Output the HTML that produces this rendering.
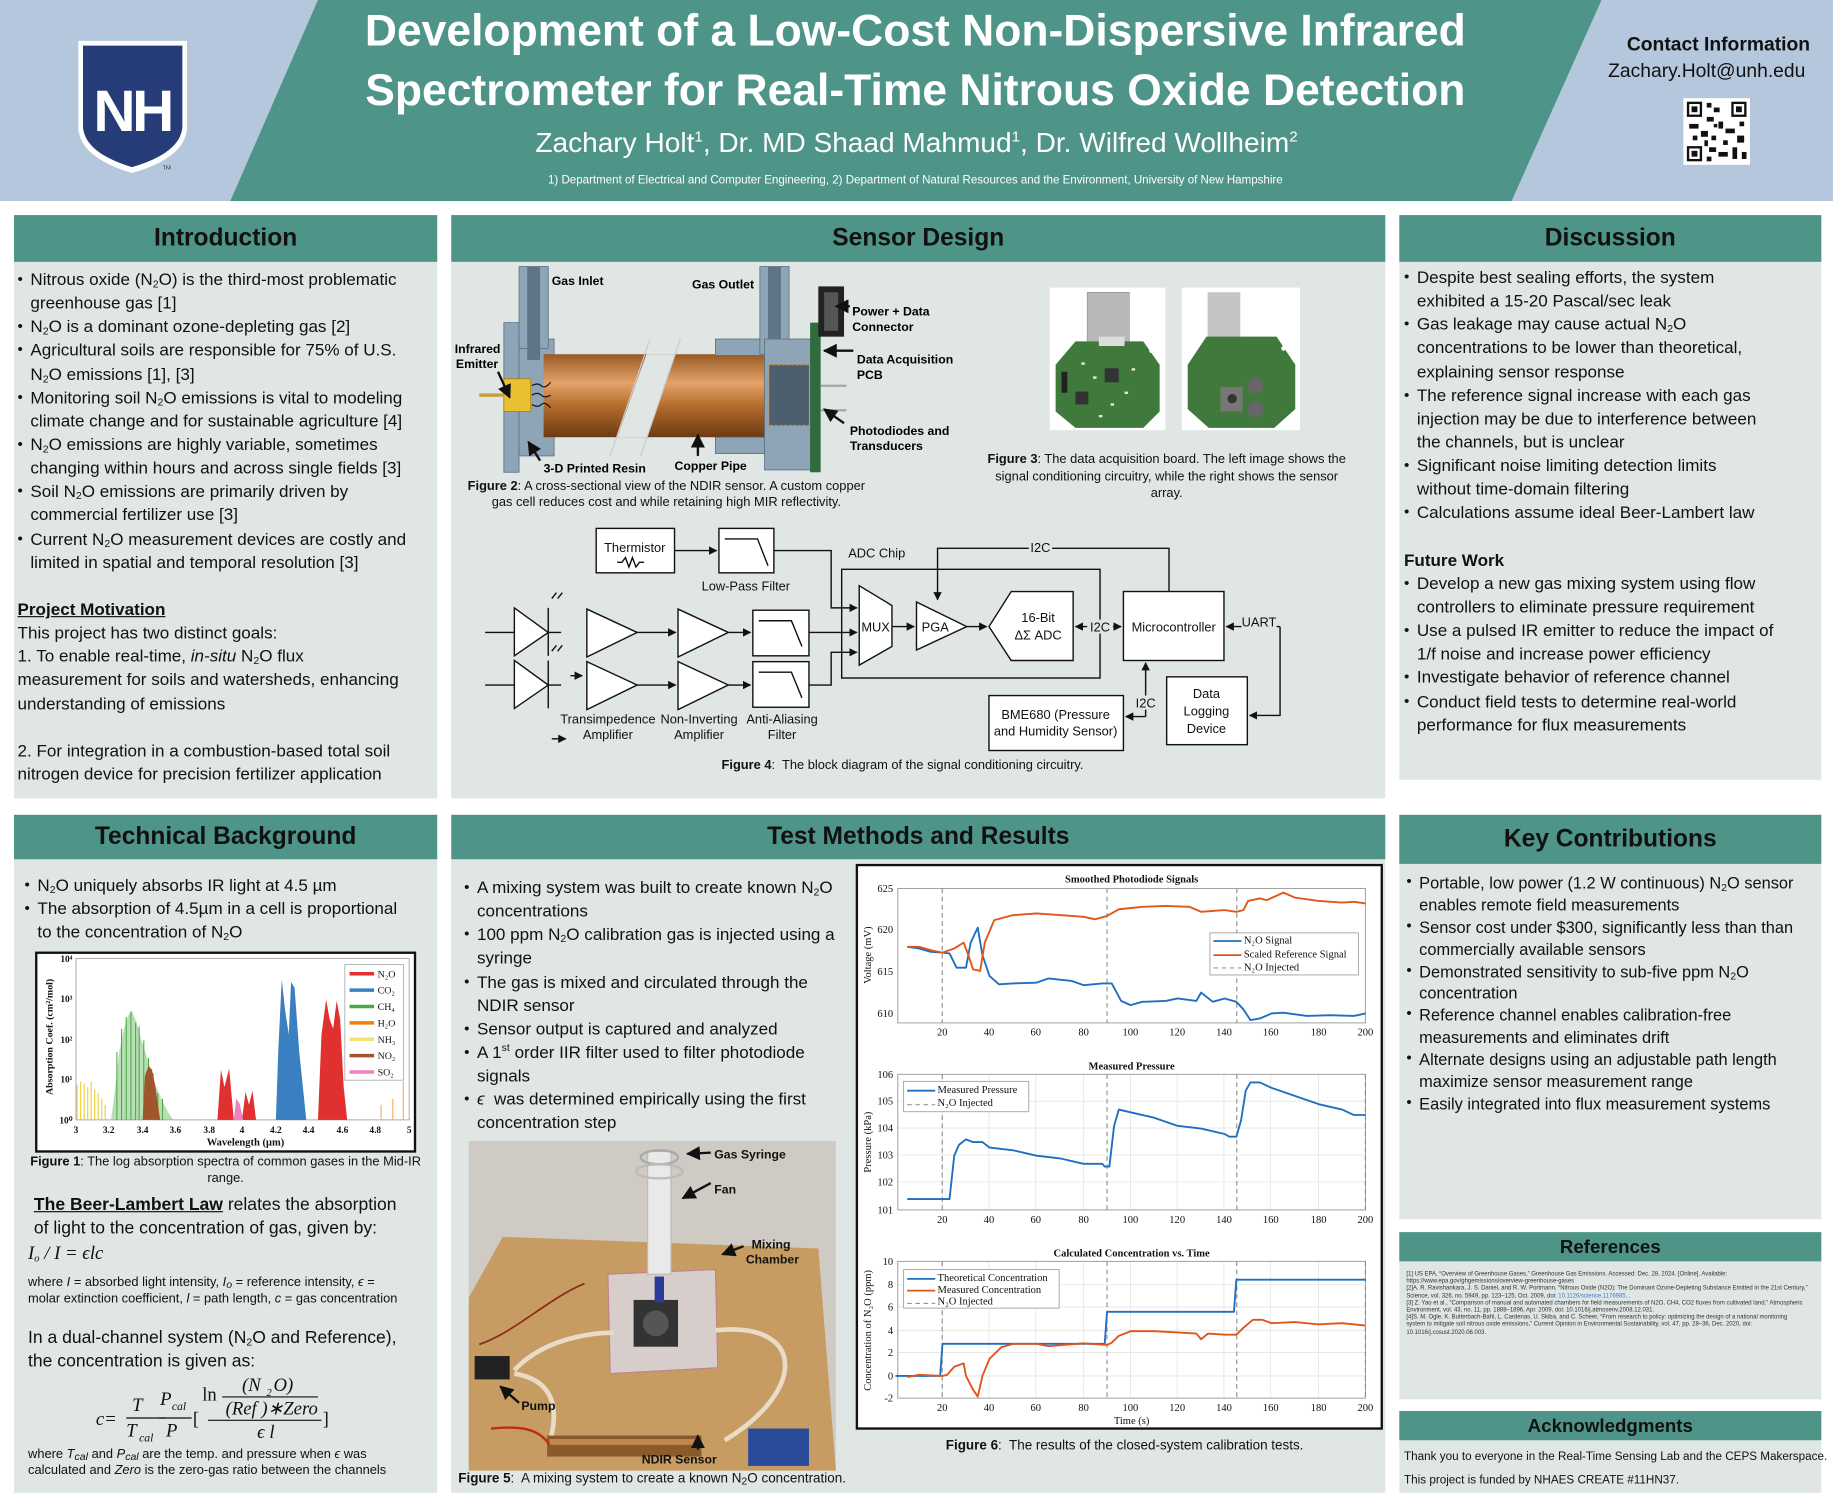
<!DOCTYPE html>
<html><head><meta charset="utf-8"><style>
html,body{margin:0;padding:0;width:1833px;height:1500px;overflow:hidden;background:#fff}
#p{position:absolute;left:0;top:0;width:1568px;height:1283px;transform:scale(1.16901);transform-origin:0 0;font-family:"Liberation Sans",sans-serif;color:#111}
.a{position:absolute;white-space:nowrap}
.pb{position:absolute;background:#dfe6e4}
.ph{position:absolute;background:#4f9488;text-align:center;font-weight:bold;font-size:21px;color:#111}
.t{position:absolute;white-space:nowrap;font-size:14.6px}
.t div{height:20.15px;line-height:20.15px}
.b{padding-left:11px;position:relative}
.b:before{content:"•";position:absolute;left:0;top:-1px;font-size:13px}
.c{padding-left:11px}
sub{font-size:9px;vertical-align:-2px;line-height:0}
sup{font-size:9px;line-height:0}
</style></head><body><div id="p">

<!-- header -->
<div class="a" style="left:0;top:0;width:1568px;height:172px;background:#b5c7dd"></div>
<svg class="a" style="left:0;top:0" width="1568" height="172">
<polygon points="272,0 1370,0 1293,172 197,172" fill="#4f9488"/>
<path d="M67,35 H160 V110 Q158,135 113,148 Q69,135 67,110 Z" fill="#fff"/>
<path d="M71,39 H156 V109 Q154,131 113,143 Q73,131 71,109 Z" fill="#253c78"/>
<text x="113" y="112" text-anchor="middle" font-family="Liberation Sans" font-weight="bold" font-size="50" fill="#fff" letter-spacing="-3">NH</text>
<text x="139" y="145" font-size="5" fill="#333">TM</text>
<rect x="1440" y="84" width="57" height="57" fill="#fff"/>
<g fill="#111">
<rect x="1443" y="87" width="13" height="13"/><rect x="1481" y="87" width="13" height="13"/><rect x="1443" y="125" width="13" height="13"/>
<rect x="1460" y="88" width="4" height="4"/><rect x="1466" y="92" width="5" height="4"/><rect x="1460" y="100" width="6" height="4"/><rect x="1470" y="104" width="4" height="6"/>
<rect x="1445" y="106" width="8" height="4"/><rect x="1455" y="112" width="6" height="5"/><rect x="1464" y="116" width="4" height="4"/><rect x="1476" y="110" width="8" height="4"/>
<rect x="1486" y="116" width="6" height="6"/><rect x="1462" y="126" width="6" height="4"/><rect x="1470" y="130" width="8" height="4"/><rect x="1482" y="126" width="4" height="10"/>
<rect x="1490" y="130" width="4" height="6"/><rect x="1460" y="134" width="4" height="4"/><rect x="1448" y="116" width="4" height="4"/><rect x="1474" y="120" width="4" height="4"/>
<rect x="1466" y="106" width="3" height="3"/><rect x="1488" y="104" width="4" height="4"/><rect x="1458" y="120" width="3" height="5"/>
</g>
<g fill="#fff"><rect x="1445" y="89" width="9" height="9"/><rect x="1483" y="89" width="9" height="9"/><rect x="1445" y="127" width="9" height="9"/></g>
<g fill="#111"><rect x="1447" y="91" width="5" height="5"/><rect x="1485" y="91" width="5" height="5"/><rect x="1447" y="129" width="5" height="5"/></g>
</svg>
<div class="a" style="left:783px;top:2px;transform:translateX(-50%);font-size:38px;font-weight:bold;color:#fff;text-align:center;line-height:51px">Development of a Low-Cost Non-Dispersive Infrared<br>Spectrometer for Real-Time Nitrous Oxide Detection</div>
<div class="a" style="left:784px;top:109px;transform:translateX(-50%);font-size:24px;color:#fff">Zachary Holt<sup style="font-size:13px">1</sup>, Dr. MD Shaad Mahmud<sup style="font-size:13px">1</sup>, Dr. Wilfred Wollheim<sup style="font-size:13px">2</sup></div>
<div class="a" style="left:783px;top:149px;transform:translateX(-50%);font-size:9.9px;color:#fff">1) Department of Electrical and Computer Engineering, 2) Department of Natural Resources and the Environment, University of New Hampshire</div>
<div class="a" style="left:1470px;top:29px;transform:translateX(-50%);font-size:16.5px;font-weight:bold">Contact Information</div>
<div class="a" style="left:1460px;top:52px;transform:translateX(-50%);font-size:16.5px">Zachary.Holt@unh.edu</div>

<!-- panels -->
<div class="pb" style="left:12px;top:184px;width:362px;height:499px"></div>
<div class="ph" style="left:12px;top:184px;width:362px;height:40px;line-height:40px">Introduction</div>
<div class="pb" style="left:386px;top:184px;width:799px;height:499px"></div>
<div class="ph" style="left:386px;top:184px;width:799px;height:40px;line-height:40px">Sensor Design</div>
<div class="pb" style="left:1197px;top:184px;width:361px;height:483px"></div>
<div class="ph" style="left:1197px;top:184px;width:361px;height:40px;line-height:40px">Discussion</div>

<div class="pb" style="left:12px;top:697px;width:362px;height:580px"></div>
<div class="ph" style="left:12px;top:697px;width:362px;height:38px;line-height:38px">Technical Background</div>
<div class="pb" style="left:386px;top:697px;width:799px;height:580px"></div>
<div class="ph" style="left:386px;top:697px;width:799px;height:38px;line-height:38px">Test Methods and Results</div>
<div class="pb" style="left:1197px;top:697px;width:361px;height:346px"></div>
<div class="ph" style="left:1197px;top:697px;width:361px;height:42px;line-height:42px">Key Contributions</div>
<div class="pb" style="left:1197px;top:1054px;width:361px;height:143px"></div>
<div class="ph" style="left:1197px;top:1054px;width:361px;height:25px;line-height:27px;font-size:16px">References</div>
<div class="pb" style="left:1197px;top:1207px;width:361px;height:70px"></div>
<div class="ph" style="left:1197px;top:1207px;width:361px;height:25px;line-height:27px;font-size:16px">Acknowledgments</div>

<!-- intro text -->
<div class="t" style="left:15px;top:230px">
<div class="b">Nitrous oxide (N<sub>2</sub>O) is the third-most problematic</div>
<div class="c">greenhouse gas [1]</div>
<div class="b">N<sub>2</sub>O is a dominant ozone-depleting gas [2]</div>
<div class="b">Agricultural soils are responsible for 75% of U.S.</div>
<div class="c">N<sub>2</sub>O emissions [1], [3]</div>
<div class="b">Monitoring soil N<sub>2</sub>O emissions is vital to modeling</div>
<div class="c">climate change and for sustainable agriculture [4]</div>
<div class="b">N<sub>2</sub>O emissions are highly variable, sometimes</div>
<div class="c">changing within hours and across single fields [3]</div>
<div class="b">Soil N<sub>2</sub>O emissions are primarily driven by</div>
<div class="c">commercial fertilizer use [3]</div>
<div class="b">Current N<sub>2</sub>O measurement devices are costly and</div>
<div class="c">limited in spatial and temporal resolution [3]</div>
<div>&nbsp;</div>
<div style="font-weight:bold;text-decoration:underline">Project Motivation</div>
<div>This project has two distinct goals:</div>
<div>1. To enable real-time, <i>in-situ</i> N<sub>2</sub>O flux</div>
<div>measurement for soils and watersheds, enhancing</div>
<div>understanding of emissions</div>
<div>&nbsp;</div>
<div>2. For integration in a combustion-based total soil</div>
<div>nitrogen device for precision fertilizer application</div>
</div>

<!-- discussion text -->
<div class="t" style="left:1201px;top:228px">
<div class="b">Despite best sealing efforts, the system</div>
<div class="c">exhibited a 15-20 Pascal/sec leak</div>
<div class="b">Gas leakage may cause actual N<sub>2</sub>O</div>
<div class="c">concentrations to be lower than theoretical,</div>
<div class="c">explaining sensor response</div>
<div class="b">The reference signal increase with each gas</div>
<div class="c">injection may be due to interference between</div>
<div class="c">the channels, but is unclear</div>
<div class="b">Significant noise limiting detection limits</div>
<div class="c">without time-domain filtering</div>
<div class="b">Calculations assume ideal Beer-Lambert law</div>
<div>&nbsp;</div>
<div style="font-weight:bold">Future Work</div>
<div class="b">Develop a new gas mixing system using flow</div>
<div class="c">controllers to eliminate pressure requirement</div>
<div class="b">Use a pulsed IR emitter to reduce the impact of</div>
<div class="c">1/f noise and increase power efficiency</div>
<div class="b">Investigate behavior of reference channel</div>
<div class="b">Conduct field tests to determine real-world</div>
<div class="c">performance for flux measurements</div>
</div>

<!-- tech background text -->
<div class="t" style="left:21px;top:748px;font-size:14.6px">
<div class="b">N<sub>2</sub>O uniquely absorbs IR light at 4.5 µm</div>
<div class="b">The absorption of 4.5µm in a cell is proportional</div>
<div class="c">to the concentration of N<sub>2</sub>O</div>
</div>
<div class="a" style="left:193px;top:988px;transform:translateX(-50%);font-size:11px;text-align:center;line-height:13.5px"><b>Figure 1</b>: The log absorption spectra of common gases in the Mid-IR<br>range.</div>
<div class="t" style="left:29px;top:1021px;font-size:15px">
<div><b style="text-decoration:underline">The Beer-Lambert Law</b> relates the absorption</div>
<div>of light to the concentration of gas, given by:</div>
</div>
<div class="a" style="left:24px;top:1064px;font-family:'Liberation Serif',serif;font-style:italic;font-size:16px">I<sub>o</sub> / I = ϵlc</div>
<div class="a" style="left:24px;top:1090px;font-size:11px;line-height:14px">where <i>I</i> = absorbed light intensity, <i>I<sub>o</sub></i> = reference intensity, <i>ϵ</i> =<br>molar extinction coefficient, <i>l</i> = path length, <i>c</i> = gas concentration</div>
<div class="t" style="left:24px;top:1135px;font-size:15px">
<div>In a dual-channel system (N<sub>2</sub>O and Reference),</div>
<div>the concentration is given as:</div>
</div>
<div class="a" style="left:24px;top:1237px;font-size:11px;line-height:14px">where <i>T<sub>cal</sub></i> and <i>P<sub>cal</sub></i> are the temp. and pressure when <i>ϵ</i> was<br>calculated and <i>Zero</i> is the zero-gas ratio between the channels</div>

<!-- test text -->
<div class="t" style="left:397px;top:750px">
<div class="b">A mixing system was built to create known N<sub>2</sub>O</div>
<div class="c">concentrations</div>
<div class="b">100 ppm N<sub>2</sub>O calibration gas is injected using a</div>
<div class="c">syringe</div>
<div class="b">The gas is mixed and circulated through the</div>
<div class="c">NDIR sensor</div>
<div class="b">Sensor output is captured and analyzed</div>
<div class="b">A 1<sup>st</sup> order IIR filter used to filter photodiode</div>
<div class="c">signals</div>
<div class="b"><i>ϵ</i>&nbsp; was determined empirically using the first</div>
<div class="c">concentration step</div>
</div>
<div class="a" style="left:392px;top:1259px;font-size:11.5px"><b>Figure 5</b>:&nbsp; A mixing system to create a known N<sub>2</sub>O concentration.</div>
<div class="a" style="left:962px;top:1231px;transform:translateX(-50%);font-size:11.5px"><b>Figure 6</b>:&nbsp; The results of the closed-system calibration tests.</div>

<!-- key contributions -->
<div class="t" style="left:1203px;top:746px;font-size:14px">
<div class="b" style="height:18.9px;line-height:18.9px">Portable, low power (1.2 W continuous) N<sub>2</sub>O sensor</div>
<div class="c" style="height:18.9px;line-height:18.9px">enables remote field measurements</div>
<div class="b" style="height:18.9px;line-height:18.9px">Sensor cost under $300, significantly less than than</div>
<div class="c" style="height:18.9px;line-height:18.9px">commercially available sensors</div>
<div class="b" style="height:18.9px;line-height:18.9px">Demonstrated sensitivity to sub-five ppm N<sub>2</sub>O</div>
<div class="c" style="height:18.9px;line-height:18.9px">concentration</div>
<div class="b" style="height:18.9px;line-height:18.9px">Reference channel enables calibration-free</div>
<div class="c" style="height:18.9px;line-height:18.9px">measurements and eliminates drift</div>
<div class="b" style="height:18.9px;line-height:18.9px">Alternate designs using an adjustable path length</div>
<div class="c" style="height:18.9px;line-height:18.9px">maximize sensor measurement range</div>
<div class="b" style="height:18.9px;line-height:18.9px">Easily integrated into flux measurement systems</div>
</div>

<div class="a" style="left:1203px;top:1087px;font-size:5.1px;line-height:6.2px;color:#333">[1] US EPA, “Overview of Greenhouse Gases,” Greenhouse Gas Emissions. Accessed: Dec. 28, 2024. [Online]. Available:<br>https://www.epa.gov/ghgemissions/overview-greenhouse-gases<br>[2]A. R. Ravishankara, J. S. Daniel, and R. W. Portmann, “Nitrous Oxide (N2O): The Dominant Ozone-Depleting Substance Emitted in the 21st Century,”<br>Science, vol. 326, no. 5949, pp. 123–125, Oct. 2009, doi: <span style="color:#3a7bd5">10.1126/science.1176985</span>. .<br>[3] Z. Yao et al., “Comparison of manual and automated chambers for field measurements of N2O, CH4, CO2 fluxes from cultivated land,” Atmospheric<br>Environment, vol. 43, no. 11, pp. 1888–1896, Apr. 2009, doi: 10.1016/j.atmosenv.2008.12.031.<br>[4]S. M. Ogle, K. Butterbach-Bahl, L. Cardenas, U. Skiba, and C. Scheer, “From research to policy: optimizing the design of a national monitoring<br>system to mitigate soil nitrous oxide emissions,” Current Opinion in Environmental Sustainability, vol. 47, pp. 28–36, Dec. 2020, doi:<br>10.1016/j.cosust.2020.06.003.</div>
<div class="a" style="left:1201px;top:1237px;font-size:10px;line-height:20px">Thank you to everyone in the Real-Time Sensing Lab and the CEPS Makerspace.<br>This project is funded by NHAES CREATE #11HN37.</div>

<div class="a" style="left:570px;top:409px;transform:translateX(-50%);font-size:11px;text-align:center;line-height:14px"><b>Figure 2</b>: A cross-sectional view of the NDIR sensor. A custom copper<br>gas cell reduces cost and while retaining high MIR reflectivity.</div>
<div class="a" style="left:998px;top:386px;transform:translateX(-50%);font-size:11px;text-align:center;line-height:14.5px"><b>Figure 3</b>: The data acquisition board. The left image shows the<br>signal conditioning circuitry, while the right shows the sensor<br>array.</div>
<div class="a" style="left:772px;top:649px;transform:translateX(-50%);font-size:11px"><b>Figure 4</b>:&nbsp; The block diagram of the signal conditioning circuitry.</div>

<!-- graphics -->
<svg class="a" style="left:0;top:0" width="1568" height="1283" font-family="Liberation Sans">
<defs>
<linearGradient id="cu" x1="0" y1="0" x2="0" y2="1"><stop offset="0" stop-color="#9a5a25"/><stop offset="0.35" stop-color="#e3a36a"/><stop offset="0.6" stop-color="#b8702f"/><stop offset="1" stop-color="#6e3a12"/></linearGradient>
<marker id="ar" viewBox="0 0 10 10" refX="9" refY="5" markerWidth="6" markerHeight="6" orient="auto"><path d="M0,0 L10,5 L0,10 z" fill="#111"/></marker>
</defs>

<!-- Figure 2 -->
<g>
<rect x="431" y="276" width="13" height="128" fill="#8ea5b7" stroke="#5d7180" stroke-width="0.7"/>
<rect x="444" y="290" width="30" height="100" fill="#8ea5b7" stroke="#5d7180" stroke-width="0.7"/>
<rect x="444" y="228" width="25" height="70" fill="#8ea5b7" stroke="#5d7180" stroke-width="0.7"/>
<rect x="451" y="228" width="11" height="80" fill="#5f7486"/>
<rect x="465" y="303" width="190" height="71" fill="url(#cu)"/>
<polygon points="553,303 578,303 553,374 528,374" fill="#dfe6e4"/>
<line x1="556" y1="290" x2="522" y2="390" stroke="#ccc"/><line x1="582" y1="290" x2="548" y2="390" stroke="#ccc"/>
<rect x="612" y="290" width="42" height="14" fill="#8ea5b7" stroke="#5d7180" stroke-width="0.7"/>
<rect x="612" y="374" width="42" height="14" fill="#8ea5b7" stroke="#5d7180" stroke-width="0.7"/>
<rect x="650" y="228" width="25" height="75" fill="#8ea5b7" stroke="#5d7180" stroke-width="0.7"/>
<rect x="657" y="228" width="11" height="80" fill="#5f7486"/>
<rect x="654" y="290" width="40" height="112" fill="#8ea5b7" stroke="#5d7180" stroke-width="0.7"/>
<rect x="658" y="312" width="34" height="52" fill="#4d5f6e"/>
<rect x="657" y="312" width="38" height="52" fill="none" stroke="#e08a2a" stroke-dasharray="2,2"/>
<rect x="693" y="276" width="9" height="128" fill="#2f6b3c"/>
<rect x="700" y="245" width="22" height="43" fill="#222"/><rect x="705" y="250" width="12" height="33" fill="#555"/>
<line x1="702" y1="330" x2="724" y2="330" stroke="#aaa" stroke-width="2"/><line x1="702" y1="351" x2="724" y2="351" stroke="#aaa" stroke-width="2"/>
<rect x="431" y="324" width="23" height="28" fill="#e8c030" stroke="#a88010" stroke-width="0.7"/>
<line x1="410" y1="338" x2="431" y2="338" stroke="#c9a040" stroke-width="3"/>
<path d="M455,330 q5,-3 8,0 t8,-3 M455,338 q5,-3 8,0 t8,0 M455,346 q5,3 8,0 t8,3" stroke="#111" fill="none" stroke-width="1"/>
<g font-size="10.5" font-weight="bold">
<text x="472" y="244">Gas Inlet</text><text x="592" y="247">Gas Outlet</text>
<text x="729" y="270">Power + Data</text><text x="729" y="283">Connector</text>
<text x="733" y="311">Data Acquisition</text><text x="733" y="324">PCB</text>
<text x="727" y="372">Photodiodes and</text><text x="727" y="385">Transducers</text>
<text x="389" y="302">Infrared</text><text x="390" y="315">Emitter</text>
<text x="465" y="404">3-D Printed Resin</text><text x="577" y="402">Copper Pipe</text>
</g>
<g stroke="#111" stroke-width="2" fill="none" marker-end="url(#ar)">
<line x1="426" y1="318" x2="436" y2="340"/><line x1="462" y1="394" x2="452" y2="378"/>
<line x1="597" y1="390" x2="597" y2="372"/><line x1="727" y1="262" x2="715" y2="262"/>
<line x1="730" y1="300" x2="705" y2="300"/><line x1="722" y1="362" x2="705" y2="350"/>
</g>
</g>

<!-- Figure 3 PCB -->
<rect x="898" y="246" width="99" height="122" fill="#fff"/>
<rect x="1011" y="246" width="101" height="122" fill="#fff"/>
<rect x="930" y="250" width="36" height="45" fill="#b8b8b8" stroke="#888" stroke-width="0.5"/>
<rect x="1033" y="250" width="28" height="40" fill="#c4c4c4"/>
<polygon points="903,312 920,292 978,292 992,312 992,352 978,366 920,366 903,352" fill="#3f7a3c"/>
<polygon points="1016,312 1032,288 1092,288 1108,312 1108,350 1090,366 1034,366 1016,350" fill="#3f7a3c"/>
<rect x="940" y="288" width="22" height="8" fill="#ddd"/>
<rect x="945" y="315" width="12" height="12" fill="#333"/><rect x="920" y="335" width="11" height="11" fill="#333"/>
<rect x="908" y="318" width="5" height="18" fill="#222"/>
<g fill="#e8e8e0"><rect x="925" y="310" width="3" height="2"/><rect x="935" y="322" width="3" height="2"/><rect x="962" y="335" width="3" height="2"/><rect x="950" y="345" width="3" height="2"/><rect x="968" y="315" width="3" height="2"/><rect x="940" y="355" width="3" height="2"/></g>
<rect x="1044" y="331" width="19" height="21" fill="#777"/><circle cx="1054" cy="341" r="4" fill="#333"/>
<circle cx="1074" cy="330" r="7" fill="#666"/><circle cx="1074" cy="350" r="7" fill="#666"/>
<g fill="#fff"><circle cx="909" cy="300" r="2"/><circle cx="985" cy="300" r="2"/><circle cx="1022" cy="298" r="2"/><circle cx="1098" cy="298" r="2"/></g>

<!-- Figure 4 block diagram -->
<g stroke="#111" stroke-width="1.2" fill="#fff" font-size="11">
<rect x="510" y="452" width="67" height="38"/>
<rect x="615" y="452" width="47" height="38"/>
<rect x="720" y="487" width="221" height="93" fill="none"/>
<polygon points="735,501 763,518 763,553 735,569"/>
<polygon points="784,515 827,536 784,556"/>
<polygon points="846,536 865,506 918,506 918,565 865,565"/>
<rect x="961" y="506" width="86" height="59"/>
<rect x="998" y="579" width="69" height="58"/>
<rect x="846" y="595" width="115" height="47"/>
<polygon points="440,520 469,541 440,561"/><polygon points="440,565 469,586 440,606"/>
<polygon points="502,521 545,541 502,562"/><polygon points="502,566 545,586 502,607"/>
<polygon points="580,521 623,541 580,562"/><polygon points="580,566 623,586 580,607"/>
<rect x="644" y="522" width="48" height="39"/><rect x="644" y="566" width="48" height="39"/>
</g>
<g stroke="#111" stroke-width="1.2" fill="none">
<path d="M620,461 H648 L657,484"/><path d="M649,531 H677 L686,553"/><path d="M649,575 H677 L686,597"/>
<path d="M528,481 h4 l3,-4 l3,8 l3,-8 l3,8 l3,-4 h4"/>
<path d="M415,541 H440 M469,520 V561 M469,541 H480"/>
<path d="M415,586 H440 M469,565 V606 M469,586 H480"/>
<path d="M476,507 l-4,5 M481,507 l-4,5 M476,552 l-4,5 M481,552 l-4,5"/>
<path d="M662,471 H711 V520 H733" marker-end="url(#ar)"/>
<path d="M577,471 H613" marker-end="url(#ar)"/>
<path d="M545,541 H578" marker-end="url(#ar)"/><path d="M545,586 H578" marker-end="url(#ar)"/>
<path d="M623,541 H642" marker-end="url(#ar)"/><path d="M623,586 H642" marker-end="url(#ar)"/>
<path d="M692,541 H733" marker-end="url(#ar)"/>
<path d="M692,586 H711 V558 H733" marker-end="url(#ar)"/>
<path d="M763,536 H782" marker-end="url(#ar)"/>
<path d="M827,536 H844" marker-end="url(#ar)"/>
<path d="M938,536 H920" marker-end="url(#ar)"/><path d="M944,536 H959" marker-end="url(#ar)"/>
<path d="M1000,506 V469 H802 V513" marker-end="url(#ar)"/>
<path d="M1095,536 H1049" marker-end="url(#ar)"/>
<path d="M1095,536 V612 H1069" marker-end="url(#ar)"/>
<path d="M980,613 V567" marker-end="url(#ar)"/>
<path d="M980,613 H963" marker-end="url(#ar)"/>
<path d="M488,578 H498" marker-end="url(#ar)"/>
<path d="M472,632 H484" marker-end="url(#ar)"/>
</g>
<g font-size="11" text-anchor="middle" fill="#111">
<rect x="930" y="530" width="22" height="12" fill="#dfe6e4"/><text x="941" y="540">I2C</text>
<rect x="1062" y="526" width="30" height="12" fill="#dfe6e4"/><text x="1077" y="536">UART</text>
<rect x="880" y="462" width="20" height="12" fill="#dfe6e4"/><text x="890" y="472">I2C</text>
<rect x="970" y="595" width="20" height="12" fill="#dfe6e4"/><text x="980" y="605">I2C</text>
<text x="543" y="472">Thermistor</text>
<text x="638" y="505">Low-Pass Filter</text>
<text x="750" y="477">ADC Chip</text>
<text x="749" y="540">MUX</text>
<text x="800" y="540">PGA</text>
<text x="888" y="532">16-Bit</text><text x="888" y="547">ΔΣ ADC</text>
<text x="1004" y="540">Microcontroller</text>
<text x="1032" y="597">Data</text><text x="1032" y="612">Logging</text><text x="1032" y="627">Device</text>
<text x="903" y="615">BME680 (Pressure</text><text x="903" y="629">and Humidity Sensor)</text>
<text x="520" y="619">Transimpedence</text><text x="520" y="632">Amplifier</text>
<text x="598" y="619">Non-Inverting</text><text x="598" y="632">Amplifier</text>
<text x="669" y="619">Anti-Aliasing</text><text x="669" y="632">Filter</text>
</g>

<!-- Figure 1 spectrum -->
<rect x="31" y="815" width="324" height="170" fill="#fff" stroke="#111" stroke-width="2"/>
<rect x="65" y="820" width="285" height="138" fill="none" stroke="#888" stroke-width="0.6"/>
<g stroke="#f0d040" stroke-width="1"><path d="M66,958V928M69,958V925M72,958V927M75,958V930M78,958V925M81,958V932M84,958V935M87,958V940M90,958V945"/></g>
<polygon points="95,958 98,935 102,900 106,880 110,868 113,865 117,875 121,890 125,902 129,915 133,928 138,940 143,950 148,958" fill="#7cc474" opacity="0.55"/>
<g stroke="#4aa84a" stroke-width="0.9"><path d="M100,958V900M104,958V880M108,958V870M112,958V865M116,958V875M119,958V878M123,958V890M127,958V905M131,958V918M135,958V935M139,958V940"/></g>
<polygon points="122,958 124,920 127,912 130,915 133,930 137,958" fill="#a0562a"/>
<polygon points="186,958 189,915 192,930 196,914 200,958" fill="#e03030"/>
<polygon points="207,958 210,934 213,945 216,933 219,958" fill="#e03030"/>
<polygon points="200,958 202,940 205,944 208,958" fill="#f080c0"/>
<polygon points="236,958 238,900 241,838 244,865 247,885 249,840 252,845 256,900 262,958" fill="#3a7fc0"/>
<polygon points="272,958 275,885 279,855 282,872 285,880 288,856 291,872 294,930 297,958" fill="#e03030"/>
<g stroke="#f5b060" stroke-width="1"><path d="M326,958V945M336,958V940M345,958V925"/></g>
<rect x="295" y="825" width="50" height="99" fill="#fff" stroke="#999" stroke-width="0.6"/>
<g stroke-width="3">
<line x1="299" y1="833" x2="320" y2="833" stroke="#e03030"/><line x1="299" y1="847" x2="320" y2="847" stroke="#3a7fc0"/>
<line x1="299" y1="861" x2="320" y2="861" stroke="#4aa84a"/><line x1="299" y1="875" x2="320" y2="875" stroke="#f08010"/>
<line x1="299" y1="889" x2="320" y2="889" stroke="#f5e070"/><line x1="299" y1="903" x2="320" y2="903" stroke="#a0562a"/>
<line x1="299" y1="917" x2="320" y2="917" stroke="#f080c0"/></g>
<g font-family="Liberation Serif" font-size="8.5" fill="#111">
<text x="323" y="836">N₂O</text><text x="323" y="850">CO₂</text><text x="323" y="864">CH₄</text><text x="323" y="878">H₂O</text><text x="323" y="892">NH₃</text><text x="323" y="906">NO₂</text><text x="323" y="920">SO₂</text>
<g font-weight="bold" font-size="8" text-anchor="end"><text x="62" y="823">10⁴</text><text x="62" y="857">10³</text><text x="62" y="892">10²</text><text x="62" y="926">10¹</text><text x="62" y="961">10⁰</text></g>
<g font-weight="bold" font-size="8" text-anchor="middle"><text x="65" y="969">3</text><text x="93" y="969">3.2</text><text x="122" y="969">3.4</text><text x="150" y="969">3.6</text><text x="179" y="969">3.8</text><text x="207" y="969">4</text><text x="236" y="969">4.2</text><text x="264" y="969">4.4</text><text x="293" y="969">4.6</text><text x="321" y="969">4.8</text><text x="350" y="969">5</text>
<text x="210" y="980" font-size="9">Wavelength (μm)</text></g>
<text transform="translate(45,887) rotate(-90)" text-anchor="middle" font-weight="bold" font-size="8.5">Absorption Coef. (cm²/mol)</text>
</g>

<!-- formula -->
<g font-family="Liberation Serif" font-style="italic" font-size="16" fill="#111">
<text x="82" y="1219">c=</text>
<text x="113" y="1207">T</text><line x1="108" y1="1213" x2="142" y2="1213" stroke="#111"/><text x="108" y="1229">T</text><text x="119" y="1233" font-size="10">cal</text>
<text x="137" y="1202">P</text><text x="147" y="1206" font-size="10">cal</text><line x1="136" y1="1213" x2="164" y2="1213" stroke="#111"/><text x="142" y="1229">P</text>
<text x="165" y="1219" font-style="normal">[</text>
<text x="173" y="1198" font-style="normal">ln</text>
<text x="207" y="1190">(N</text><text x="228" y="1194" font-size="9">2</text><text x="234" y="1190">O)</text>
<line x1="190" y1="1195" x2="272" y2="1195" stroke="#111"/>
<text x="193" y="1210">(Ref )∗Zero</text>
<line x1="178" y1="1215" x2="275" y2="1215" stroke="#111"/>
<text x="220" y="1230">ϵ l</text>
<text x="276" y="1219" font-style="normal">]</text>
</g>

<!-- Figure 5 photo -->
<rect x="401" y="976" width="314" height="282" fill="#cfcac3"/>
<polygon points="430,1058 700,1068 715,1258 401,1258 401,1110" fill="#c79c62"/>
<polygon points="520,1090 612,1086 614,1170 522,1175" fill="#d9d4d8" stroke="#c08090" stroke-width="1" opacity="0.9"/>
<rect x="542" y="1112" width="38" height="40" fill="#333"/><circle cx="561" cy="1132" r="11" fill="#555"/>
<rect x="554" y="985" width="20" height="105" fill="#e9e9ea" stroke="#bbb"/>
<ellipse cx="564" cy="990" rx="16" ry="6" fill="none" stroke="#aaa" stroke-width="2"/>
<ellipse cx="564" cy="1002" rx="20" ry="6" fill="none" stroke="#bbb" stroke-width="2"/>
<rect x="560" y="1092" width="8" height="22" fill="#2a3a9a"/>
<g fill="none" stroke="#e8dcc8" stroke-width="4">
<path d="M440,1172 C470,1140 520,1140 525,1140"/><path d="M612,1138 C690,1130 690,1190 620,1232"/>
<path d="M440,1175 C470,1180 480,1200 470,1235"/></g>
<rect x="468" y="1228" width="132" height="18" fill="#8a5a2a"/><rect x="470" y="1231" width="128" height="5" fill="#c08850"/>
<rect x="640" y="1222" width="52" height="32" fill="#2a4a9a"/>
<rect x="406" y="1160" width="30" height="20" fill="#222"/>
<path d="M410,1150 C440,1140 470,1110 500,1098" stroke="#8a2a1a" stroke-width="1.5" fill="none"/>
<path d="M420,1222 C440,1220 460,1220 470,1236" stroke="#c02a1a" stroke-width="2" fill="none"/>
<g font-size="10.5" font-weight="bold" fill="#111">
<text x="611" y="991">Gas Syringe</text><text x="611" y="1021">Fan</text>
<text x="643" y="1068">Mixing</text><text x="638" y="1081">Chamber</text>
<text x="446" y="1206">Pump</text><text x="549" y="1252">NDIR Sensor</text></g>
<g stroke="#111" stroke-width="2" fill="none" marker-end="url(#ar)">
<line x1="608" y1="986" x2="588" y2="987"/><line x1="608" y1="1012" x2="584" y2="1025"/>
<line x1="636" y1="1066" x2="618" y2="1073"/><line x1="444" y1="1200" x2="428" y2="1186"/>
<line x1="597" y1="1240" x2="597" y2="1228"/></g>

<!-- Figure 6 charts -->
<rect x="733" y="740" width="449" height="482" fill="#fff" stroke="#111" stroke-width="2"/>
<g stroke="#e4e4e4" stroke-width="0.7">
<path d="M806,919V1035M846,919V1035M886,919V1035M927,919V1035M967,919V1035M1007,919V1035M1047,919V1035M1087,919V1035M1128,919V1035M768,942H1168M768,965H1168M768,988H1168M768,1011H1168"/>
<path d="M806,1079V1196M846,1079V1196M886,1079V1196M927,1079V1196M967,1079V1196M1007,1079V1196M1047,1079V1196M1087,1079V1196M1128,1079V1196M768,1099H1168M768,1118H1168M768,1138H1168M768,1157H1168M768,1177H1168"/>
</g>
<g fill="none" stroke="#999" stroke-width="0.8">
<rect x="768" y="760" width="400" height="115"/>
<rect x="768" y="919" width="400" height="116"/>
<rect x="768" y="1079" width="400" height="117"/>
</g>
<g stroke="#888" stroke-width="0.9" stroke-dasharray="4,3">
<path d="M806,760V875M947,760V875M1058,760V875"/>
<path d="M806,919V1035M947,919V1035M1058,919V1035M1168,919V1035"/>
<path d="M806,1079V1196M947,1079V1196M1058,1079V1196M1168,1079V1196"/>
</g>
<g fill="none" stroke-width="1.6" stroke-linejoin="round">
<g transform="translate(766,5216.25) scale(2.011,-7.13)">
<polyline vector-effect="non-scaling-stroke" stroke="#1f6fc0" points="5,618 10,617.8 15,617.4 20,617.3 23,617.2 26,615.5 30,615.5 32,618.5 35,620.3 37,617 40,614.5 44,613.5 50,613.6 60,613.7 65,614.2 75,613.9 80,613.4 88,613.6 92,613.6 96,611.5 100,611 105,611.4 115,611.5 120,611.8 128,611.5 130,612.5 135,611.4 140,611.8 145,611.4 148,610.5 151,609.2 155,609.4 160,610 165,610.1 175,609.7 185,609.8 195,609.7 200,610"/>
<polyline vector-effect="non-scaling-stroke" stroke="#e0551a" points="5,618 10,618 15,617.6 20,617.3 25,617.8 29,618.5 31,617 33,615.3 36,615.1 38,618.5 42,621.2 50,621.8 60,622 70,621.8 80,621.6 85,621.3 90,621.7 95,622.5 105,622.8 115,622.9 125,622.8 130,622.2 140,622.4 145,622.2 148,622.4 150,623.5 155,623.8 158,623.6 165,624.5 170,623.9 180,623.5 190,623.3 195,623.4 200,623.2"/>
</g>
<g transform="translate(766,3378.2) scale(2.011,-23.2)">
<polyline vector-effect="non-scaling-stroke" stroke="#1f6fc0" points="5,101.4 23,101.4 25,103 27,103.4 30,103.6 33,103.5 37,103.5 40,103.3 50,103.2 60,103 70,102.9 80,102.7 88,102.7 89,102.6 91,102.6 93,104.1 95,104.7 100,104.6 110,104.4 120,104.1 130,104 140,103.8 142,103.7 145,103.7 147,104.3 149,105.4 151,105.7 155,105.7 160,105.5 170,105.2 180,104.9 190,104.7 195,104.5 200,104.5"/>
</g>
<g transform="translate(766,1177) scale(2.011,-9.8)">
<polyline vector-effect="non-scaling-stroke" stroke="#1f6fc0" points="0,0 19,0 20,2.8 89,2.8 90,5.6 144,5.6 145,8.4 200,8.4"/>
<polyline vector-effect="non-scaling-stroke" stroke="#e0551a" points="5,-0.1 10,0.1 20,0 22,0.1 25,0.8 29,1.1 30,0 33,-1.2 35,-1.8 37,0 40,1.5 45,2.5 50,2.8 60,2.8 65,2.6 80,2.85 90,2.7 92,2.9 95,3.5 100,3.9 110,3.9 120,3.8 128,3.7 130,3.2 133,3.7 140,3.6 145,3.6 148,4.2 152,4.9 156,4.9 160,4.6 170,4.7 180,4.5 190,4.6 200,4.4"/>
</g>
</g>
<g font-family="Liberation Serif" font-size="9" fill="#111">
<g font-weight="bold" text-anchor="middle"><text x="968" y="755">Smoothed Photodiode Signals</text><text x="968" y="915">Measured Pressure</text><text x="968" y="1075">Calculated Concentration vs. Time</text></g>
<g text-anchor="end"><text x="764" y="763">625</text><text x="764" y="798">620</text><text x="764" y="834">615</text><text x="764" y="870">610</text>
<text x="764" y="922">106</text><text x="764" y="945">105</text><text x="764" y="968">104</text><text x="764" y="991">103</text><text x="764" y="1014">102</text><text x="764" y="1038">101</text>
<text x="764" y="1082">10</text><text x="764" y="1102">8</text><text x="764" y="1121">6</text><text x="764" y="1141">4</text><text x="764" y="1160">2</text><text x="764" y="1180">0</text><text x="764" y="1199">-2</text></g>
<g text-anchor="middle">
<text x="806" y="886">20</text><text x="846" y="886">40</text><text x="886" y="886">60</text><text x="927" y="886">80</text><text x="967" y="886">100</text><text x="1007" y="886">120</text><text x="1047" y="886">140</text><text x="1087" y="886">160</text><text x="1128" y="886">180</text><text x="1168" y="886">200</text>
<text x="806" y="1046">20</text><text x="846" y="1046">40</text><text x="886" y="1046">60</text><text x="927" y="1046">80</text><text x="967" y="1046">100</text><text x="1007" y="1046">120</text><text x="1047" y="1046">140</text><text x="1087" y="1046">160</text><text x="1128" y="1046">180</text><text x="1168" y="1046">200</text>
<text x="806" y="1207">20</text><text x="846" y="1207">40</text><text x="886" y="1207">60</text><text x="927" y="1207">80</text><text x="967" y="1207">100</text><text x="1007" y="1207">120</text><text x="1047" y="1207">140</text><text x="1087" y="1207">160</text><text x="1128" y="1207">180</text><text x="1168" y="1207">200</text>
<text x="968" y="1218">Time (s)</text>
<text transform="translate(745,817) rotate(-90)">Voltage (mV)</text>
<text transform="translate(745,977) rotate(-90)">Pressure (kPa)</text>
<text transform="translate(745,1138) rotate(-90)">Concentration of N₂O (ppm)</text>
</g>
<rect x="1035" y="798" width="127" height="36" fill="#fff" stroke="#999" stroke-width="0.7"/>
<line x1="1038" y1="805" x2="1062" y2="805" stroke="#1f6fc0" stroke-width="1.5"/><text x="1064" y="807">N₂O Signal</text>
<line x1="1038" y1="817" x2="1062" y2="817" stroke="#e0551a" stroke-width="1.5"/><text x="1064" y="819">Scaled Reference Signal</text>
<line x1="1038" y1="828" x2="1062" y2="828" stroke="#999" stroke-dasharray="4,3"/><text x="1064" y="830">N₂O Injected</text>
<rect x="773" y="925" width="107" height="26" fill="#fff" stroke="#999" stroke-width="0.7"/>
<line x1="776" y1="933" x2="800" y2="933" stroke="#1f6fc0" stroke-width="1.5"/><text x="802" y="935">Measured Pressure</text>
<line x1="776" y1="945" x2="800" y2="945" stroke="#999" stroke-dasharray="4,3"/><text x="802" y="946">N₂O Injected</text>
<rect x="773" y="1086" width="133" height="33" fill="#fff" stroke="#999" stroke-width="0.7"/>
<line x1="776" y1="1094" x2="800" y2="1094" stroke="#1f6fc0" stroke-width="1.5"/><text x="802" y="1096">Theoretical Concentration</text>
<line x1="776" y1="1104" x2="800" y2="1104" stroke="#e0551a" stroke-width="1.5"/><text x="802" y="1106">Measured Concentration</text>
<line x1="776" y1="1115" x2="800" y2="1115" stroke="#999" stroke-dasharray="4,3"/><text x="802" y="1116">N₂O Injected</text>
</g>
</svg>
</div></body></html>
